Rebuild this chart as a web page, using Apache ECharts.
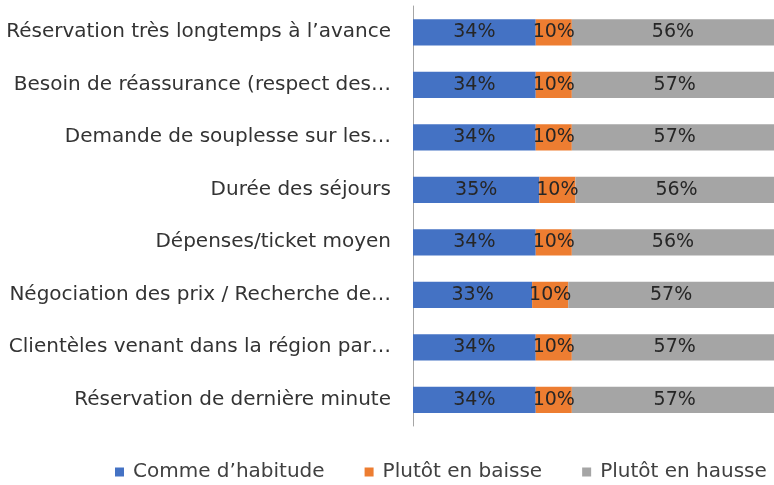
<!DOCTYPE html>
<html>
<head>
<meta charset="utf-8">
<script src="https://cdn.jsdelivr.net/npm/echarts@6/dist/echarts.min.js"></script>
<style>
  html, body { margin: 0; padding: 0; background: #fff; }
  #chart { width: 774px; height: 485px; }
</style>
</head>
<body>
<div id="chart"></div>
<script>
const categories = [
  "Réservation très longtemps à l’avance",
  "Besoin de réassurance (respect des…",
  "Demande de souplesse sur les…",
  "Durée des séjours",
  "Dépenses/ticket moyen",
  "Négociation des prix / Recherche de…",
  "Clientèles venant dans la région par…",
  "Réservation de dernière minute"
];
const commeHabitude = [34, 34, 34, 35, 34, 33, 34, 34];
const enBaisse = [10, 10, 10, 10, 10, 10, 10, 10];
const enHausse = [56, 57, 57, 56, 56, 57, 57, 57];

const FONT = "DejaVu Sans";
const chart = echarts.init(document.getElementById("chart"));

function barSeries(name, data, color) {
  return {
    name: name,
    type: "bar",
    stack: "total",
    data: data,
    barWidth: "50%",
    clip: false,
    itemStyle: { color: color },
    label: {
      show: true,
      position: "inside",
      formatter: "{c}%",
      color: "#262626",
      fontFamily: FONT,
      fontSize: 19
    }
  };
}

const option = {
  backgroundColor: "#ffffff",
  animation: false,
  grid: { left: 413, top: 6, width: 365, height: 420 },
  legend: {
    left: 110,
    top: 457,
    itemWidth: 9,
    itemHeight: 9,
    itemGap: 40,
    icon: "rect",
    textStyle: {
      color: "#404040",
      fontFamily: FONT,
      fontSize: 20,
      padding: [0, 0, 0, 4]
    },
    data: ["Comme d’habitude", "Plutôt en baisse", "Plutôt en hausse"]
  },
  xAxis: {
    type: "value",
    min: 0,
    max: 100,
    show: false
  },
  yAxis: {
    type: "category",
    inverse: true,
    data: categories,
    axisLine: { show: true, lineStyle: { color: "#a6a6a6", width: 1 } },
    axisTick: { show: false },
    axisLabel: {
      margin: 22,
      color: "#333333",
      fontFamily: FONT,
      fontSize: 20
    }
  },
  series: [
    barSeries("Comme d’habitude", commeHabitude, "#4472C4"),
    barSeries("Plutôt en baisse", enBaisse, "#ED7D31"),
    barSeries("Plutôt en hausse", enHausse, "#A5A5A5")
  ]
};
chart.setOption(option);
</script>
</body>
</html>
